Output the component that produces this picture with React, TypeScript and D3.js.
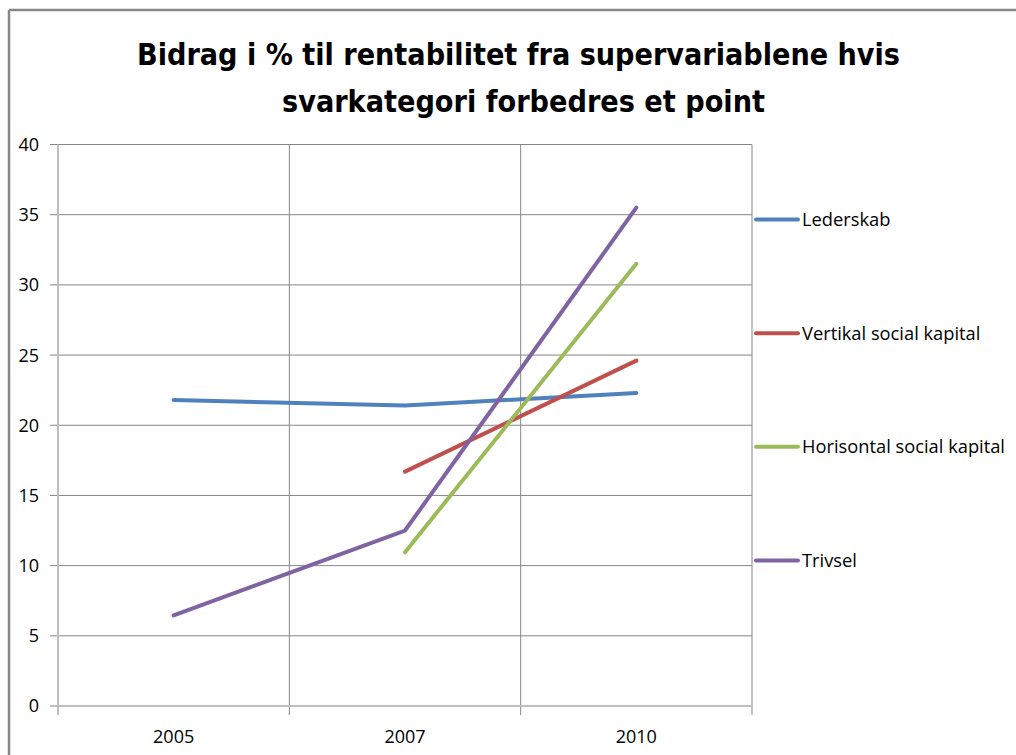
import React from "react";
import * as d3 from "d3";

const categories = ["2005", "2007", "2010"];
const seriesNames = ["Lederskab", "Vertikal social kapital", "Horisontal social kapital", "Trivsel"];
const lederskab: (number | null)[] = [21.8, 21.4, 22.3];
const vertikal: (number | null)[] = [null, 16.7, 24.6];
const horisontal: (number | null)[] = [null, 10.95, 31.5];
const trivsel: (number | null)[] = [6.45, 12.5, 35.5];
const colors = ["#4F81BD", "#C0504D", "#9BBB59", "#8064A2"];
const yTicks = [0, 5, 10, 15, 20, 25, 30, 35, 40];
const titleLines = ["Bidrag i % til rentabilitet fra supervariablene hvis", "svarkategori forbedres et point"];

export default function App() {
  const W = 1016, H = 755;
  const left = 58, right = 752, top = 144.5, bottom = 706;
  const x = d3.scaleBand<string>().domain(categories).range([left, right]).paddingInner(0).paddingOuter(0);
  const y = d3.scaleLinear().domain([0, 40]).range([bottom, top]);
  const allSeries = [lederskab, vertikal, horisontal, trivsel];
  const line = d3
    .line<number | null>()
    .defined((d) => d !== null)
    .x((_, i) => (x(categories[i]) as number) + x.bandwidth() / 2)
    .y((d) => y(d as number));
  const font = "'Open Sans', sans-serif";
  const titleFont = "'DejaVu Sans Condensed', 'DejaVu Sans', sans-serif";
  const boundaries = [...categories.map((c) => x(c) as number), right];
  const legendY = d3.scalePoint<string>().domain(seriesNames).range([219.5, 560.5]);

  return (
    <svg width={W} height={H} style={{ position: "absolute", left: 0, top: 0, background: "#fff" }}>
      <rect x={0} y={0} width={W} height={H} fill="#fff" />
      {/* outer border */}
      <line x1={9} y1={10} x2={W} y2={10} stroke="#888" strokeWidth={2.5} />
      <line x1={9} y1={10} x2={9} y2={H} stroke="#888" strokeWidth={2.5} />
      {/* title */}
      <text x={518.5} y={65} textAnchor="middle" fontFamily={titleFont} fontWeight="bold" fontSize={31} fill="#000" textLength={763} lengthAdjust="spacingAndGlyphs">
        {titleLines[0]}
      </text>
      <text x={523.5} y={112} textAnchor="middle" fontFamily={titleFont} fontWeight="bold" fontSize={31} fill="#000" textLength={483} lengthAdjust="spacingAndGlyphs">
        {titleLines[1]}
      </text>
      {/* horizontal gridlines */}
      {yTicks.map((t) => (
        <g key={"y" + t}>
          {t > 0 && <line x1={left} x2={right} y1={y(t)} y2={y(t)} stroke="#868686" strokeWidth={1} />}
          <line x1={left - 8} x2={left} y1={y(t)} y2={y(t)} stroke="#868686" strokeWidth={1} />
          <text x={39} y={y(t)} dy="0.36em" textAnchor="end" fontFamily={font} fontSize={18} fill="#000">
            {t}
          </text>
        </g>
      ))}
      {/* vertical gridlines */}
      {boundaries.map((b, i) => (
        <g key={"x" + i}>
          {i > 0 && <line x1={b} x2={b} y1={top} y2={bottom} stroke="#868686" strokeWidth={1} />}
          <line x1={b} x2={b} y1={bottom} y2={bottom + 9} stroke="#868686" strokeWidth={1} />
        </g>
      ))}
      {/* axes */}
      <line x1={left} x2={left} y1={top} y2={bottom + 9} stroke="#bfbfbf" strokeWidth={2} />
      <line x1={left - 8} x2={right} y1={bottom} y2={bottom} stroke="#bfbfbf" strokeWidth={2} />
      {categories.map((c) => (
        <text key={c} x={(x(c) as number) + x.bandwidth() / 2} y={737} dy="0.36em" textAnchor="middle" fontFamily={font} fontSize={18} fill="#000">
          {c}
        </text>
      ))}
      {/* series */}
      {allSeries.map((s, i) => (
        <path key={seriesNames[i]} d={line(s) || ""} fill="none" stroke={colors[i]} strokeWidth={4} strokeLinecap="round" strokeLinejoin="round" />
      ))}
      {/* legend */}
      {seriesNames.map((n, i) => (
        <g key={"l" + n}>
          <line x1={756} x2={798} y1={legendY(n)} y2={legendY(n)} stroke={colors[i]} strokeWidth={4} strokeLinecap="round" />
          <text x={802} y={legendY(n)} dy="0.36em" fontFamily={font} fontSize={18.3} fill="#000">
            {n}
          </text>
        </g>
      ))}
    </svg>
  );
}
